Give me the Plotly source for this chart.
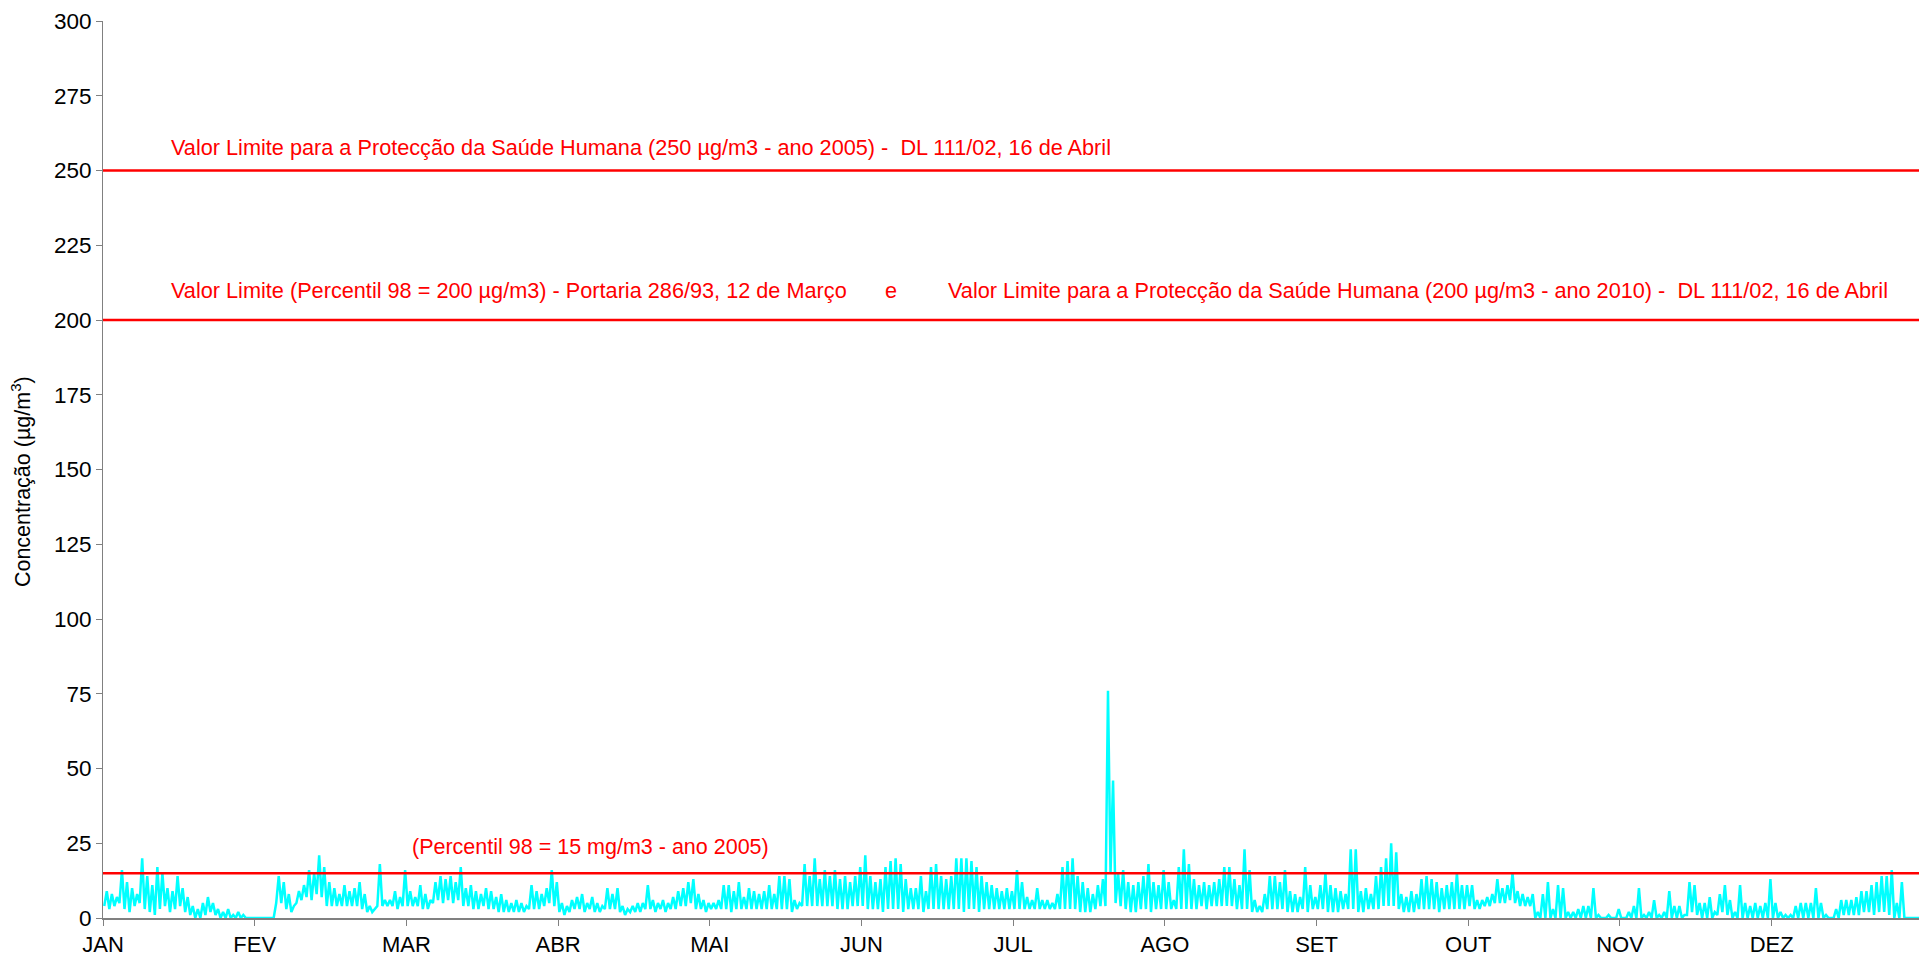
import plotly.graph_objects as go

# Month labels along the hourly axis (730 h per month on the category axis)
months = ["JAN", "FEV", "MAR", "ABR", "MAI", "JUN", "JUL", "AGO", "SET", "OUT", "NOV", "DEZ"]
hours_per_month = 730

# Daily peak and low concentrations (µg/m3), one list per month
peaks = {
    "JAN": [9, 8, 7, 16, 12, 10, 8, 20, 14, 11, 17, 15, 10, 9, 14, 10, 7, 4, 3, 5, 7, 5, 3, 2, 3, 1, 2, 1, 0, 0],
    "FEV": [0, 0, 0, 0, 14, 12, 8, 4, 9, 11, 16, 15, 21, 17, 12, 10, 8, 11, 9, 10, 12, 8, 4, 3, 18, 6, 6, 9, 7, 16],
    "MAR": [9, 7, 11, 8, 6, 12, 14, 13, 14, 12, 17, 10, 11, 9, 8, 10, 9, 7, 8, 6, 5, 6, 5, 4, 11, 9, 8, 10, 16, 12],
    "ABR": [5, 4, 6, 7, 8, 5, 7, 5, 4, 10, 8, 10, 4, 3, 4, 5, 5, 11, 6, 5, 6, 5, 7, 9, 10, 12, 13, 8, 6, 5],
    "MAI": [5, 6, 11, 11, 9, 12, 7, 10, 9, 8, 9, 11, 8, 14, 14, 13, 6, 5, 18, 14, 20, 13, 16, 14, 16, 13, 14, 12, 14, 17],
    "JUN": [21, 14, 12, 13, 17, 19, 20, 18, 13, 10, 10, 14, 9, 17, 18, 14, 13, 14, 20, 20, 20, 19, 17, 14, 12, 11, 10, 9, 10, 9],
    "JUL": [16, 12, 7, 6, 10, 6, 6, 5, 8, 17, 19, 20, 14, 12, 10, 8, 11, 13, 76, 46, 15, 16, 12, 11, 12, 14, 18, 12, 11, 16],
    "AGO": [12, 6, 17, 23, 18, 13, 11, 12, 11, 12, 13, 17, 17, 13, 11, 23, 16, 6, 4, 8, 14, 14, 12, 16, 9, 8, 7, 17, 11, 7],
    "SET": [11, 15, 11, 10, 9, 8, 23, 23, 9, 10, 8, 14, 17, 20, 25, 22, 8, 7, 9, 8, 13, 14, 13, 12, 10, 11, 12, 15, 11, 11],
    "OUT": [11, 6, 6, 7, 8, 13, 10, 11, 15, 9, 8, 7, 8, 2, 8, 12, 3, 11, 10, 2, 2, 3, 4, 4, 10, 1, 0, 1, 0, 3],
    "NOV": [0, 2, 4, 10, 1, 2, 6, 1, 2, 9, 4, 4, 1, 12, 11, 5, 5, 7, 2, 8, 11, 6, 2, 11, 5, 4, 5, 4, 5, 13],
    "DEZ": [5, 2, 1, 1, 4, 5, 5, 5, 10, 5, 1, 0, 3, 6, 6, 6, 7, 9, 9, 11, 12, 14, 14, 16, 5, 12, 0, 0, 0, 0],
}
lows = {
    "JAN": [4, 3, 4, 5, 3, 2, 4, 5, 3, 2, 1, 3, 4, 2, 3, 4, 2, 1, 0, 0, 1, 2, 1, 0, 0, 0, 0, 0, 0, 0],
    "FEV": [0, 0, 0, 0, 5, 5, 3, 2, 5, 6, 7, 6, 8, 7, 4, 4, 4, 4, 4, 4, 4, 3, 2, 2, 4, 4, 4, 4, 3, 4],
    "MAR": [4, 4, 4, 3, 3, 5, 6, 5, 6, 5, 6, 4, 4, 3, 3, 4, 3, 3, 2, 2, 2, 2, 2, 2, 3, 3, 3, 4, 5, 4],
    "ABR": [2, 1, 2, 3, 3, 2, 3, 2, 2, 3, 3, 3, 2, 1, 2, 2, 2, 3, 3, 2, 3, 2, 3, 3, 4, 4, 5, 3, 3, 2],
    "MAI": [3, 3, 3, 3, 2, 3, 3, 3, 3, 3, 3, 3, 3, 3, 3, 3, 2, 3, 4, 4, 4, 4, 4, 4, 4, 3, 3, 3, 4, 4],
    "JUN": [4, 3, 3, 3, 2, 3, 3, 3, 2, 3, 3, 3, 2, 3, 3, 3, 3, 3, 3, 3, 2, 3, 3, 2, 3, 3, 3, 3, 3, 3],
    "JUL": [3, 3, 3, 3, 3, 3, 3, 3, 3, 3, 3, 3, 3, 2, 2, 2, 3, 4, 4, 15, 5, 4, 3, 2, 2, 3, 3, 2, 3, 3],
    "AGO": [3, 3, 3, 3, 3, 3, 3, 4, 3, 4, 4, 4, 4, 4, 3, 3, 3, 2, 2, 2, 3, 3, 3, 3, 2, 2, 2, 3, 2, 3],
    "SET": [3, 3, 2, 2, 2, 3, 3, 3, 2, 2, 3, 3, 3, 4, 4, 4, 3, 2, 2, 2, 3, 3, 3, 3, 2, 3, 3, 3, 3, 3],
    "OUT": [4, 3, 3, 4, 4, 5, 5, 5, 6, 5, 4, 4, 4, 0, 0, 0, 0, 0, 0, 0, 0, 0, 0, 0, 0, 0, 0, 0, 0, 0],
    "NOV": [0, 0, 0, 0, 0, 0, 0, 0, 0, 0, 0, 0, 0, 1, 2, 1, 0, 0, 0, 1, 2, 1, 0, 0, 0, 0, 0, 0, 0, 0],
    "DEZ": [0, 0, 0, 0, 0, 0, 0, 0, 0, 0, 0, 0, 0, 0, 1, 1, 1, 1, 2, 2, 1, 2, 2, 1, 0, 0, 0, 0, 0, 0],
}

# Legal limit values (µg/m3)
limit_values = [250, 200, 15]

# Build the hourly series: each day contributes its low and its peak
xs, ys = [], []
for m, name in enumerate(months):
    seq = []
    for lo, hi in zip(lows[name], peaks[name]):
        seq += [lo, hi]
    step = hours_per_month / len(seq)
    for j, v in enumerate(seq):
        xs.append(m * hours_per_month + (j + 0.5) * step)
        ys.append(v)

FONT = "Arial, 'Liberation Sans', sans-serif"
x_end = 8739

fig = go.Figure()
fig.add_trace(go.Scatter(x=xs, y=ys, mode="lines",
                         line=dict(color="#00FFFF", width=2.5), hoverinfo="skip"))
for v in limit_values:
    fig.add_trace(go.Scatter(x=[0, x_end], y=[v, v], mode="lines",
                             line=dict(color="#FF0000", width=2.5), hoverinfo="skip"))

red = dict(color="#FF0000", family=FONT, size=21.7)
ann = [
    dict(x=318, y=257.8, text="Valor Limite para a Protecção da Saúde Humana (250 µg/m3 - ano 2005) -  DL 111/02, 16 de Abril",
         xanchor="left", yanchor="middle", showarrow=False, font=red),
    dict(x=318, y=210, text="Valor Limite (Percentil 98 = 200 µg/m3) - Portaria 286/93, 12 de Março",
         xanchor="left", yanchor="middle", showarrow=False, font=red),
    dict(x=3792, y=210, text="e", xanchor="center", yanchor="middle", showarrow=False, font=red),
    dict(x=4057, y=210, text="Valor Limite para a Protecção da Saúde Humana (200 µg/m3 - ano 2010) -  DL 111/02, 16 de Abril",
         xanchor="left", yanchor="middle", showarrow=False, font=red),
    dict(x=1477, y=23.7, text="(Percentil 98 = 15 mg/m3 - ano 2005)",
         xanchor="left", yanchor="middle", showarrow=False,
         font=dict(color="#FF0000", family=FONT, size=21.5)),
    dict(x=-0.0452, y=0.487, xref="paper", yref="paper", text="Concentração (µg/m<sup>3</sup>)",
         textangle=-90, xanchor="center", yanchor="middle", showarrow=False,
         font=dict(color="black", family=FONT, size=21.5)),
]

fig.update_layout(
    width=1919, height=960,
    margin=dict(l=103, r=0, t=21, b=42),
    paper_bgcolor="white", plot_bgcolor="white",
    showlegend=False,
    annotations=ann,
    xaxis=dict(range=[0, x_end], tickmode="array",
               tickvals=[i * hours_per_month for i in range(len(months))],
               ticktext=months, ticks="outside", ticklen=6, tickcolor="#808080",
               showline=True, linecolor="#808080", linewidth=2,
               showgrid=False, zeroline=False,
               tickfont=dict(family=FONT, size=22, color="black")),
    yaxis=dict(range=[0, 300], tickmode="linear", tick0=0, dtick=25,
               ticks="outside", ticklen=6, tickcolor="#808080",
               showline=True, linecolor="#808080", linewidth=1,
               showgrid=False, zeroline=False,
               tickfont=dict(family=FONT, size=22.5, color="black")),
)

fig.write_html("out.html")
